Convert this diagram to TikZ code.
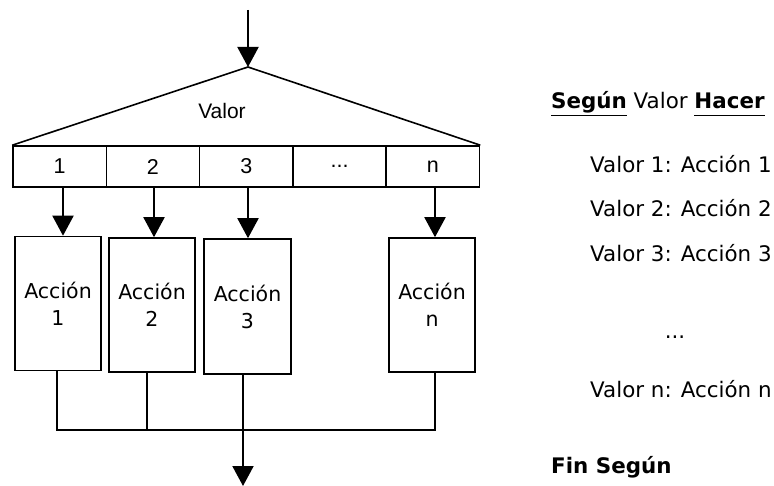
\documentclass[tikz,border=0pt]{standalone}
\usepackage{fontspec}
\setmainfont{DejaVu Sans}
\newfontfamily\arialfont{Liberation Sans}
\usetikzlibrary{arrows.meta}
\begin{document}
\begin{tikzpicture}[x=1pt,y=-1pt,
  flow/.style={line width=2pt, -{Triangle[length=20pt,width=21pt]}},
  wire/.style={line width=2pt},
  cell/.style={draw, line width=1.6pt, minimum width=93.3pt, minimum height=41pt,
    inner sep=0pt, font=\arialfont\fontsize{21.5}{25}\selectfont},
  actbox/.style={draw, line width=1.6pt, minimum width=86pt, minimum height=134pt,
    inner sep=0pt, align=center, font=\fontsize{20.5}{27}\selectfont},
  code/.style={anchor=base west, inner sep=0pt, font=\fontsize{21.4}{25}\selectfont}]
\useasboundingbox (0,0) rectangle (774,486);

% entry arrow and selector triangle
\coordinate (entry) at (248,10);
\coordinate (apex) at (248,67);
\draw[flow] (entry) -- (apex);

% row of case values
\node[cell] (c1) at (59.65,166.5) {1};
\node[cell] (c2) at (152.95,166.5) {2};
\node[cell] (c3) at (246.25,166.5) {3};
\node[cell] (c4) at (339.55,166.5) {...};
\node[cell] (c5) at (432.85,166.5) {n};

\draw[line width=1.6pt, line join=miter] (c1.north west) -- (apex) -- (c5.north east);
\node[inner sep=0pt, font=\arialfont\fontsize{21}{25}\selectfont] (sel) at (222,111) {Valor};

% action boxes
\node[actbox] (a1) at (58,303.5) {Acción\\1};
\node[actbox] (a2) at (152,305) {Acción\\2};
\node[actbox, minimum width=87pt, minimum height=135pt] (a3) at (247.5,306.5) {Acción\\3};
\node[actbox] (an) at (432,305) {Acción\\n};

% branch arrows
\coordinate (x1) at (63,0);
\coordinate (x2) at (154,0);
\coordinate (x3) at (248,0);
\coordinate (xn) at (435,0);
\draw[flow] (x1 |- c1.south) -- (x1 |- a1.north);
\draw[flow] (x2 |- c2.south) -- (x2 |- a2.north);
\draw[flow] (x3 |- c3.south) -- (x3 |- a3.north);
\draw[flow] (xn |- c5.south) -- (xn |- an.north);

% merge lines
\coordinate (m1) at (57,430);
\coordinate (m2) at (147,430);
\coordinate (m3) at (243,430);
\coordinate (mn) at (435,430);
\coordinate (exit) at (243,486);
\draw[wire, line join=miter] (m1 |- a1.south) -- (m1) -- (mn) -- (mn |- an.south);
\draw[wire] (m2 |- a2.south) -- (m2);
\draw[flow] (m3 |- a3.south) -- (exit);

% pseudocode
\node[code] (h) at (551,109) {\underline{\textbf{Según}} Valor \underline{\textbf{Hacer}\vphantom{g}}};
\node[code] (l1) at (590,173) {Valor 1: Acción 1};
\node[code] (l2) at (590,217) {Valor 2: Acción 2};
\node[code] (l3) at (590,262) {Valor 3: Acción 3};
\node[code, anchor=base] (ld) at (675,338) {...};
\node[code] (ln) at (590,397) {Valor n: Acción n};
\node[code] (f) at (551,473) {\textbf{Fin Según}};
\end{tikzpicture}
\end{document}
